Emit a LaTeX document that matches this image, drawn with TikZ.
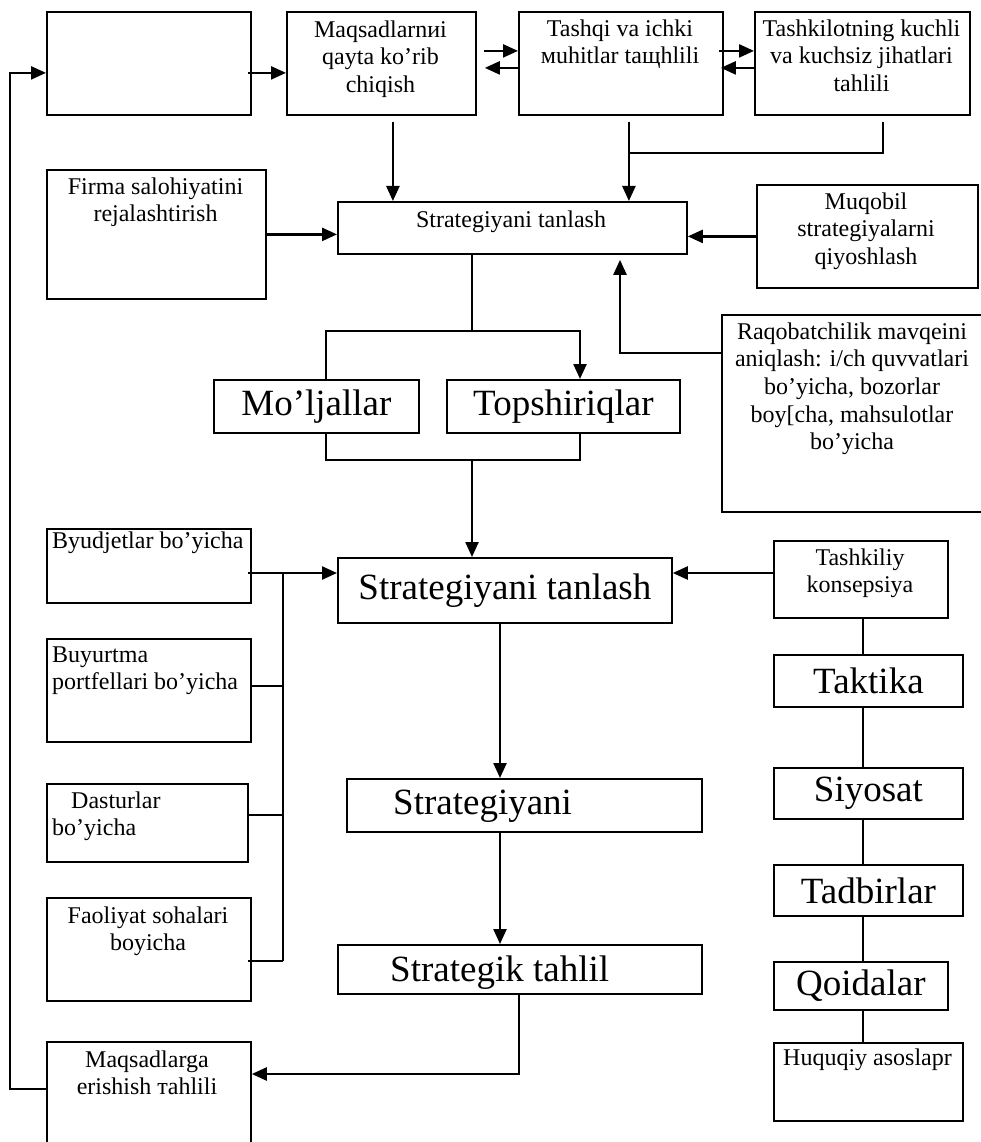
\documentclass[tikz,border=0pt]{standalone}
\usepackage{fontspec}
\setmainfont{Liberation Serif}
\usetikzlibrary{arrows.meta,calc}
\tikzset{
  bx/.style={draw, line width=1.8pt, inner sep=0pt, anchor=north west},
  ln/.style={line width=1.8pt},
  ar/.style={line width=2.4pt, -{Triangle[length=15pt,width=13pt]}},
  sm/.style={font=\fontsize{24}{27.6}\selectfont, inner sep=0pt, align=center},
  sml/.style={font=\fontsize{24}{27.6}\selectfont, inner sep=0pt, align=left},
  lg/.style={font=\fontsize{37}{42}\selectfont},
}
\begin{document}
\begin{tikzpicture}[x=1pt,y=-1pt]
\useasboundingbox (0,0) rectangle (980,1142);
\fill[white] (0,0) rectangle (980,1142);
% ---------- boxes ----------
\node[bx, minimum width=204pt, minimum height=103pt] (A) at (46,11) {};
\node[bx, minimum width=189pt, minimum height=103pt] (B) at (286,11) {};
\node[bx, minimum width=204pt, minimum height=103pt] (C) at (518,11) {};
\node[bx, minimum width=215pt, minimum height=103pt] (D) at (754,11) {};
\node[bx, minimum width=219pt, minimum height=129pt] (F) at (46,169) {};
\node[bx, minimum width=349pt, minimum height=52pt] (S1) at (337,201) {};
\node[bx, minimum width=221pt, minimum height=103pt] (M) at (756,184) {};
\node[bx, minimum width=275pt, minimum height=197pt] (R) at (721,314) {};
\node[bx, lg, minimum width=205pt, minimum height=53pt] (mo) at (213,379) {Mo’ljallar};
\node[bx, lg, minimum width=233pt, minimum height=53pt] (top) at (446,379) {Topshiriqlar};
\node[bx, lg, minimum width=334pt, minimum height=65pt] (S2) at (337,557) {Strategiyani tanlash};
\node[bx, minimum width=355pt, minimum height=53pt] (S3) at (346,778) {};
\node[bx, minimum width=364pt, minimum height=49pt] (S4) at (337,944) {};
\node[bx, minimum width=204pt, minimum height=74pt] (by) at (46,528) {};
\node[bx, minimum width=204pt, minimum height=103pt] (bu) at (46,638) {};
\node[bx, minimum width=201pt, minimum height=78pt] (da) at (46,783) {};
\node[bx, minimum width=204pt, minimum height=103pt] (fa) at (46,897) {};
\node[bx, minimum width=204pt, minimum height=110pt] (mq) at (46,1041) {};
\node[bx, minimum width=174pt, minimum height=77pt] (tk) at (773,540) {};
\node[bx, lg, minimum width=189pt, minimum height=52pt] (tak) at (773,654) {Taktika};
\node[bx, lg, minimum width=189pt, minimum height=51pt] (si) at (773,767) {Siyosat};
\node[bx, lg, minimum width=189pt, minimum height=51pt] (td) at (773,864) {Tadbirlar};
\node[bx, lg, minimum width=174pt, minimum height=48pt] (qo) at (773,961) {Qoidalar};
\node[bx, minimum width=189pt, minimum height=78pt] (hu) at (773,1042) {};
% ---------- texts ----------
\node[sm, anchor=north] (Bt) at (380.5,17.7) {\strut Maqsadlarnиi\\qayta ko’rib\\chiqish};
\node[sm, anchor=north] (Ct) at (620,16.7) {\strut Tashqi va ichki\\мuhitlar taщhlili};
\node[sm, anchor=north] (Dt) at (861.5,16.7) {\strut Tashkilotning kuchli\\va kuchsiz jihatlari\\tahlili};
\node[sm, anchor=north] (Ft) at (155.5,174.7) {\strut Firma salohiyatini\\rejalashtirish};
\node[sm, anchor=base] (S1t) at (511,227) {Strategiyani tanlash};
\node[sm, anchor=north] (Mt) at (866,189.7) {\strut Muqobil\\strategiyalarni\\qiyoshlash};
\node[sm, anchor=north] (Rt) at (852,319.7) {\strut Raqobatchilik mavqeini\\aniqlash: i/ch quvvatlari\\bo’yicha, bozorlar\\boy[cha, mahsulotlar\\bo’yicha};
\node[sml, anchor=base west] (byt) at (52,548) {Byudjetlar bo’yicha};
\node[sml, anchor=north west] (but) at (52,642.7) {\strut Buyurtma\\portfellari bo’yicha};
\node[sml, anchor=north west] (dat) at (52,788.7) {\strut\hspace*{19pt}Dasturlar\\bo’yicha};
\node[sm, anchor=north] (fat) at (148,903.7) {\strut Faoliyat sohalari\\boyicha};
\node[sm, anchor=north] (mqt) at (147,1047.7) {\strut Maqsadlarga\\erishish тahlili};
\node[sm, anchor=north] (tkt) at (860,545.7) {\strut Tashkiliy\\konsepsiya};
\node[sm, anchor=base] (hut) at (867.5,1065) {Huquqiy asoslapr};
\node[lg, inner sep=0pt, anchor=base west] (S3t) at (393,814) {Strategiyani};
\node[lg, inner sep=0pt, anchor=base west] (S4t) at (390,981) {Strategik tahlil};
% ---------- helper coordinates ----------
\coordinate (b1) at ([xshift=11.5pt,yshift=-6pt]B.south);
\coordinate (c1) at ([xshift=8pt,yshift=-6pt]C.south);
\coordinate (d1) at ([xshift=20.5pt,yshift=-6pt]D.south);
\coordinate (yj) at (0,153);
\coordinate (r1) at ([yshift=-39pt]R.north west);
\coordinate (xr) at (620,0);
\coordinate (r2) at ([yshift=-5pt]S1.south -| xr);
\coordinate (xs) at (472,0);
\coordinate (xm) at (326,0);
\coordinate (xt) at (580,0);
\coordinate (yb) at (0,331);
\coordinate (yb2) at (0,460);
\coordinate (xb) at (283,0);
\coordinate (y573) at (0,573);
\coordinate (y686) at (0,686);
\coordinate (y815) at (0,815);
\coordinate (y961) at (0,961);
\coordinate (xd) at (500,0);
\coordinate (xe) at (519,0);
\coordinate (y1074) at (0,1074);
\coordinate (xc) at (863,0);
% ---------- connectors ----------
\draw[ar] ([yshift=-48pt]mq.north west) -- ++(-36pt,0pt) |- ([yshift=-9.5pt]A.west);
\draw[ar] ([xshift=-4pt,yshift=-9.5pt]A.east) -- ([yshift=-9.5pt]B.west);
\draw[ar] ([xshift=7pt,yshift=12.5pt]B.east) -- ([yshift=12.5pt]C.west);
\draw[ar] ([yshift=-4.5pt]C.west) -- ([xshift=8pt,yshift=-4.5pt]B.east);
\draw[ar] ([xshift=-5pt,yshift=12.5pt]C.east) -- ([yshift=12.5pt]D.west);
\draw[ar] ([yshift=-4.5pt]D.west) -- ([xshift=-3pt,yshift=-4.5pt]C.east);
\draw[ar] (b1) -- (b1 |- S1.north);
\draw[ar] (c1) -- (c1 |- S1.north);
\draw[ln] (d1) -- (d1 |- yj) -- (c1 |- yj);
\draw[ar] (F.east) -- (F.east -| S1.west);
\draw[ar] (M.west) -- (M.west -| S1.east);
\draw[ar] (r1) -| (r2);
\draw[ln] (S1.south -| xs) -- (xs |- yb);
\draw[ar] (mo.north -| xm) |- (xt |- yb) -- (top.north -| xt);
\draw[ln] (mo.south -| xm) |- (xt |- yb2) -- (top.south -| xt);
\draw[ar] (xs |- yb2) -- (S2.north -| xs);
\draw[ar] ([xshift=-4pt]by.east |- y573) -- (S2.west |- y573);
\draw[ln] (xb |- y573) -- (xb |- y961);
\draw[ln] (bu.east |- y686) -- (xb |- y686);
\draw[ln] (da.east |- y815) -- (xb |- y815);
\draw[ln] ([xshift=-4pt]fa.east |- y961) -- (xb |- y961);
\draw[ar] (tk.west |- y573) -- (S2.east |- y573);
\draw[ar] (S2.south -| xd) -- (S3.north -| xd);
\draw[ar] (S3.south -| xd) -- (S4.north -| xd);
\draw[ar] (S4.south -| xe) |- (mq.east |- y1074);
\draw[ln] (tk.south -| xc) -- (tak.north -| xc);
\draw[ln] (tak.south -| xc) -- (si.north -| xc);
\draw[ln] (si.south -| xc) -- (td.north -| xc);
\draw[ln] (td.south -| xc) -- (qo.north -| xc);
\draw[ln] (qo.south -| xc) -- (hu.north -| xc);
\end{tikzpicture}
\end{document}
